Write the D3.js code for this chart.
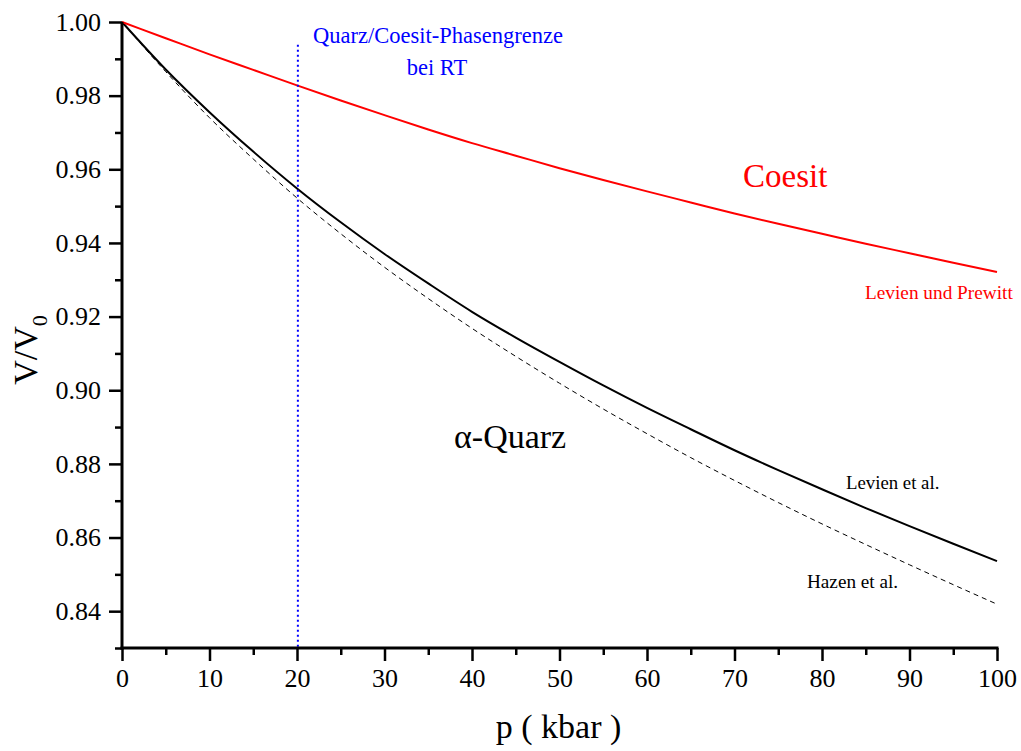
<!DOCTYPE html>
<html>
<head>
<meta charset="utf-8">
<script src="https://cdn.jsdelivr.net/npm/d3@7"></script>
<style>
  body { margin: 0; background: #fff; }
  svg text { font-family: "Liberation Serif", "Times New Roman", Times, serif; }
</style>
</head>
<body>
<div id="chart"></div>
<script>
// Pressure (kbar) and V/V0 values
var pressure = [0, 5, 10, 15, 20, 25, 30, 35, 40, 45, 50, 55, 60, 65, 70, 75, 80, 85, 90, 95, 100];
var coesit   = [1.0000, 0.9956, 0.9912, 0.9870, 0.9828, 0.9787, 0.9747, 0.9708, 0.9671, 0.9637, 0.9603, 0.9571, 0.9540, 0.9510, 0.9480, 0.9452, 0.9425, 0.9398, 0.9372, 0.9346, 0.9321];
var levien   = [1.0000, 0.9871, 0.9755, 0.9648, 0.9548, 0.9456, 0.9370, 0.9290, 0.9213, 0.9143, 0.9077, 0.9013, 0.8952, 0.8894, 0.8837, 0.8783, 0.8731, 0.8680, 0.8631, 0.8583, 0.8536];
var hazen    = [1.0000, 0.9865, 0.9740, 0.9628, 0.9522, 0.9425, 0.9334, 0.9249, 0.9168, 0.9092, 0.9019, 0.8949, 0.8882, 0.8817, 0.8755, 0.8695, 0.8637, 0.8581, 0.8526, 0.8472, 0.8419];

var phaseBoundary = 20.1;   // kbar, Quarz/Coesit at RT
var boundaryTop = 0.9938;

var xTicks = [0, 10, 20, 30, 40, 50, 60, 70, 80, 90, 100];
var xMinorTicks = [5, 15, 25, 35, 45, 55, 65, 75, 85, 95];
var yTicks = [0.84, 0.86, 0.88, 0.90, 0.92, 0.94, 0.96, 0.98, 1.00];
var yMinorTicks = [0.83, 0.85, 0.87, 0.89, 0.91, 0.93, 0.95, 0.97, 0.99];

var serif = "'Liberation Serif', 'Times New Roman', Times, serif";

var basewidth = 1021,
    baseheight = 751,
    margin = { top: 22, right: 24, left: 122 },
    width = basewidth - margin.left - margin.right,
    plotHeight = 626;   // 0.83 .. 1.00

var svg = d3.select("#chart").append("svg")
    .attr("width", basewidth)
    .attr("height", baseheight)
    .append("g")
    .attr("transform", "translate(" + margin.left + "," + margin.top + ")");

var xScale = d3.scaleLinear().domain([0, 100]).range([0, width]);
var yScale = d3.scaleLinear().domain([0.83, 1.00]).range([plotHeight, 0]);

var line = d3.line()
    .x(function (d) { return xScale(d[0]); })
    .y(function (d) { return yScale(d[1]); })
    .curve(d3.curveMonotoneX);

function pairs(vals) {
    return pressure.map(function (p, i) { return [p, vals[i]]; });
}

// curves
svg.append("path")
    .datum(pairs(hazen))
    .attr("fill", "none")
    .attr("stroke", "#000")
    .attr("stroke-width", 1)
    .attr("stroke-dasharray", "5,4")
    .attr("d", line);

svg.append("path")
    .datum(pairs(levien))
    .attr("fill", "none")
    .attr("stroke", "#000")
    .attr("stroke-width", 2)
    .attr("d", line);

svg.append("path")
    .datum(pairs(coesit))
    .attr("fill", "none")
    .attr("stroke", "#ff0000")
    .attr("stroke-width", 2)
    .attr("d", line);

// phase boundary
svg.append("line")
    .attr("x1", xScale(phaseBoundary))
    .attr("x2", xScale(phaseBoundary))
    .attr("y1", yScale(boundaryTop))
    .attr("y2", yScale(0.83))
    .attr("stroke", "#0000ff")
    .attr("stroke-width", 2)
    .attr("stroke-dasharray", "2,3");

// axes
var yBottom = yScale(0.83);

var xAxis = d3.axisBottom(xScale).tickValues(xTicks).tickSize(13).tickPadding(8).tickFormat(d3.format("d"));
var xMinor = d3.axisBottom(xScale).tickValues(xMinorTicks).tickSize(7).tickFormat("");
var yAxis = d3.axisLeft(yScale).tickValues(yTicks).tickSize(13).tickPadding(8).tickFormat(d3.format(".2f"));
var yMinor = d3.axisLeft(yScale).tickValues(yMinorTicks).tickSize(7).tickFormat("");

function styleAxis(g) {
    g.attr("font-family", serif);
    g.select(".domain").remove();
    g.selectAll(".tick line").attr("stroke", "#000").attr("stroke-width", 2.5);
    g.selectAll(".tick text")
        .attr("fill", "#000")
        .style("font-family", serif)
        .style("font-size", "26px");
}

svg.append("g").attr("transform", "translate(0," + yBottom + ")").call(xAxis).call(styleAxis);
svg.append("g").attr("transform", "translate(0," + yBottom + ")").call(xMinor).call(styleAxis);
svg.append("g").call(yAxis).call(styleAxis);
svg.append("g").call(yMinor).call(styleAxis);

// axis lines
svg.append("line")
    .attr("x1", 0).attr("x2", 0)
    .attr("y1", 0).attr("y2", yBottom + 1.5)
    .attr("stroke", "#000").attr("stroke-width", 3);
svg.append("line")
    .attr("x1", -1.5).attr("x2", xScale(100) + 1.5)
    .attr("y1", yBottom).attr("y2", yBottom)
    .attr("stroke", "#000").attr("stroke-width", 3);

// axis labels
svg.append("text")
    .attr("x", xScale(50) - 1)
    .attr("y", yBottom + 90)
    .attr("text-anchor", "middle")
    .style("font-size", "34px")
    .text("p ( kbar )");

var ylab = svg.append("text")
    .attr("transform", "translate(" + (-85) + "," + 328 + ") rotate(-90)")
    .attr("text-anchor", "middle")
    .style("font-size", "34px");
ylab.append("tspan").text("V/V");
ylab.append("tspan").attr("dy", 10).style("font-size", "22px").text("0");

// annotations
function note(x, y, txt, color, size, anchor) {
    svg.append("text")
        .attr("x", x)
        .attr("y", y)
        .attr("text-anchor", anchor || "start")
        .attr("fill", color)
        .style("font-size", size + "px")
        .text(txt);
}

note(316, 21, "Quarz/Coesit-Phasengrenze", "#0000ff", 22.5, "middle");
note(315, 53, "bei RT", "#0000ff", 22.5, "middle");
note(621, 165, "Coesit", "#ff0000", 33);
note(743, 277, "Levien und Prewitt", "#ff0000", 19.3);
note(724, 467, "Levien et al.", "#000", 18.8);
note(685, 566, "Hazen et al.", "#000", 19.2);
note(332, 426, "\u03b1-Quarz", "#000", 34);
</script>
</body>
</html>
